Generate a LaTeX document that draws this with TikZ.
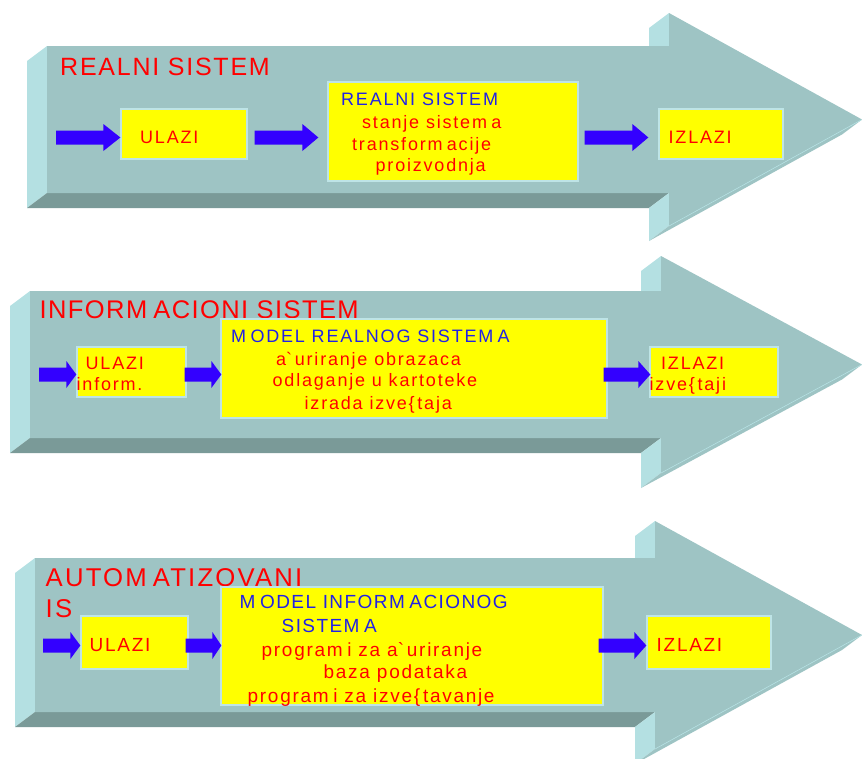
\documentclass[tikz,border=0pt]{standalone}
\usepackage{fontspec}
\setmainfont{Liberation Sans}
\usetikzlibrary{calc}
\definecolor{frontc}{RGB}{158,196,196}
\definecolor{lightc}{RGB}{180,224,226}
\definecolor{darkc}{RGB}{122,154,152}
\definecolor{yfill}{RGB}{255,255,0}
\definecolor{yline}{RGB}{190,228,230}
\definecolor{barrowc}{RGB}{51,0,255}
\definecolor{btext}{RGB}{34,34,230}
\definecolor{rtext}{RGB}{255,0,0}
\newcommand\mgap{\kern0.24em}
\newcommand\bgap{\kern0.15em}
% 3D block arrow: #1 left x, #2 top y, #3 bottom y, #4 head x, #5 head top y
\newcommand\bigarrow[5]{%
  \fill[lightc] (#1,#2) -- (#1,#3) -- (#1-20,#3+15) -- (#1-20,#2+15) -- cycle;
  \fill[darkc] (#1,#3) -- (#4,#3) -- (#4-20,#3+15) -- (#1-20,#3+15) -- cycle;
  \fill[lightc] (#4,#5) -- (#4,#2+15) -- (#4-20,#2+15) -- (#4-20,#5+15) -- cycle;
  \fill[lightc] (#4,#3) -- (#4,{#2+#3-#5}) -- (#4-20,{#2+#3-#5+15}) -- (#4-20,#3+15) -- cycle;
  \fill[frontc] (#4,{#2+#3-#5}) -- (862,{(#2+#3)/2}) -- (842,{(#2+#3)/2+15}) -- (#4-20,{#2+#3-#5+15}) -- cycle;
  \fill[frontc] (#1,#2) -- (#4,#2) -- (#4,#5) -- (862,{(#2+#3)/2}) -- (#4,{#2+#3-#5}) -- (#4,#3) -- (#1,#3) -- cycle;
  \draw[lightc, line width=0.6pt] (#4,{#2+#3-#5}) -- (862,{(#2+#3)/2});
}
% small blue block arrow from #1 to #2 (x of #2, y of #1), head length #3
\newcommand\barrow[3]{%
  \fill[barrowc] let \p1=(#1), \p2=(#2) in
    (\x1,\y1+7) -- (\x2-#3,\y1+7) -- (\x2-#3,\y1+13.5) -- (\x2,\y1)
    -- (\x2-#3,\y1-13.5) -- (\x2-#3,\y1-7) -- (\x1,\y1-7) -- cycle;
}
\begin{document}
\begin{tikzpicture}[x=1pt,y=-1pt,
  ybox/.style={draw=yline, line width=1.3pt, fill=yfill, inner sep=0pt},
  ttlA/.style={anchor=base west, inner sep=0pt, text=rtext, font=\fontsize{25}{30}\selectfont\addfontfeature{LetterSpace=7}},
  ttlB/.style={anchor=base west, inner sep=0pt, text=rtext, font=\fontsize{25.5}{30}\selectfont\addfontfeature{LetterSpace=5.5}},
  ttlC/.style={anchor=base west, inner sep=0pt, text=rtext, font=\fontsize{25.7}{30}\selectfont\addfontfeature{LetterSpace=8.5}},
  rdA/.style={anchor=base west, inner sep=0pt, text=rtext, font=\fontsize{18}{20}\selectfont\addfontfeature{LetterSpace=10}},
  blA/.style={rdA, text=btext},
  rdC/.style={anchor=base west, inner sep=0pt, text=rtext, font=\fontsize{19}{21}\selectfont\addfontfeature{LetterSpace=9}},
  blC/.style={anchor=base west, inner sep=0pt, text=btext, font=\fontsize{19}{21}\selectfont\addfontfeature{LetterSpace=7.5}}]
\useasboundingbox (0,0) rectangle (862,758);

% ---------- big arrows
\bigarrow{47}{46}{193}{669}{13}
\bigarrow{30}{291}{438}{661}{256}
\bigarrow{35}{558}{712}{655}{521}

% ---------- titles
\node[ttlA] (t1) at (60,75) {REALNI SISTEM};
\node[ttlB] (t2) at (39.5,318.3) {INFORM\mgap ACIONI SISTEM};
\node[ttlC] (t3a) at (45.5,586.7) {AUTOM\mgap ATIZOVANI};
\node[ttlC] (t3b) at (45.5,617.3) {IS};

% ---------- boxes row 1
\node[ybox, minimum width=126pt, minimum height=50pt] (u1) at (184,134) {};
\node[ybox, minimum width=250pt, minimum height=99pt] (big1) at (453,131.5) {};
\node[ybox, minimum width=124pt, minimum height=50pt] (iz1) at (721,134) {};
% row 2
\node[ybox, minimum width=109pt, minimum height=50pt] (u2) at (131.5,372) {};
\node[ybox, minimum width=386pt, minimum height=99pt] (big2) at (414,368.5) {};
\node[ybox, minimum width=128pt, minimum height=50pt] (iz2) at (714,372) {};
% row 3
\node[ybox, minimum width=107pt, minimum height=53pt] (u3) at (134.5,642.5) {};
\node[ybox, minimum width=382pt, minimum height=118pt] (big3) at (412,646) {};
\node[ybox, minimum width=124pt, minimum height=53pt] (iz3) at (709,642.5) {};

% ---------- small arrows
\coordinate (s1) at (56,137.5);
\coordinate (s2) at (39,374.5);
\coordinate (s3) at (43,645.5);
\barrow{s1}{u1.west}{17}
\barrow{$(u1.east)+(7,3.5)$}{$(big1.west)+(-9,0)$}{16}
\barrow{$(big1.east)+(6,6)$}{$(iz1.west)+(-10,0)$}{16}
\barrow{s2}{u2.west}{10}
\barrow{$(u2.east)+(-2,2.5)$}{$(big2.west)+(1,0)$}{10}
\barrow{$(big2.east)+(-4,6)$}{$(iz2.west)+(1,0)$}{12}
\barrow{s3}{u3.west}{10}
\barrow{$(u3.east)+(-3,3)$}{$(big3.west)+(1,0)$}{9}
\barrow{$(big3.east)+(-5,-0.5)$}{iz3.west}{12}

% ---------- texts row 1
\node[rdA] (u1t) at (140,143.5) {ULAZI};
\node[blA] (b1a) at (341,105.7) {REALNI SISTEM};
\node[rdA] (b1b) at (362,128.3) {stanje sistem\mgap a};
\node[rdA] (b1c) at (352,150) {transform\mgap acije};
\node[rdA] (b1d) at (375.5,171) {proizvodnja};
\node[rdA] (i1t) at (668.5,143.5) {IZLAZI};
% row 2
\node[rdA] (u2a) at (85.5,369) {ULAZI};
\node[rdA] (u2b) at (76.5,390.7) {inform.};
\node[blA] (b2a) at (231,342.3) {M\mgap ODEL REALNOG SISTEM\mgap A};
\node[rdA] (b2b) at (276,365) {a\textasciigrave\bgap uriranje obrazaca};
\node[rdA] (b2c) at (272.5,386.7) {odlaganje u kartoteke};
\node[rdA] (b2d) at (304.5,409) {izrada izve\{\bgap taja};
\node[rdA] (i2a) at (661,369) {IZLAZI};
\node[rdA] (i2b) at (649.5,390.7) {izve\{\bgap taji};
% row 3
\node[rdC] (u3t) at (89.5,651.7) {ULAZI};
\node[blC] (b3a) at (239.5,608.3) {M\mgap ODEL INFORM\mgap ACIONOG};
\node[blC] (b3b) at (281.5,632.3) {SISTEM\mgap A};
\node[rdC] (b3c) at (261.5,656.7) {program\mgap i za a\textasciigrave\bgap uriranje};
\node[rdC] (b3d) at (323.5,678.3) {baza podataka};
\node[rdC] (b3e) at (247.5,702.7) {program\mgap i za izve\{\bgap tavanje};
\node[rdC] (i3t) at (656.5,651.7) {IZLAZI};
\end{tikzpicture}
\end{document}
